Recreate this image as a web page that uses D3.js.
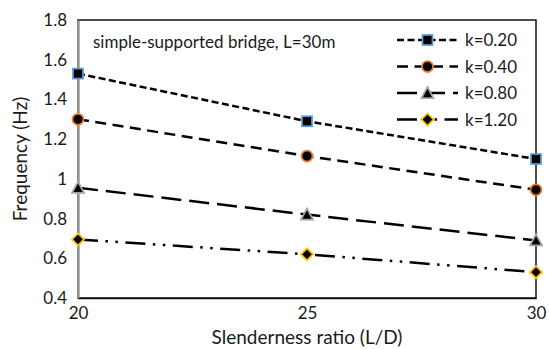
<!DOCTYPE html>
<html>
<head>
<meta charset="utf-8">
<script src="https://cdn.jsdelivr.net/npm/d3@7"></script>
<style>
  html, body { margin: 0; padding: 0; background: #fff; }
  svg { display: block; }
  text { font-family: Lato, "Open Sans", sans-serif; fill: #1a1a1a; }
</style>
</head>
<body>
<svg id="chart" width="549" height="349"></svg>
<script>
// Slenderness ratios on the x axis
const slenderness = [20, 25, 30];
// Natural frequency (Hz) for each stiffness ratio k
const seriesNames = ["k=0.20", "k=0.40", "k=0.80", "k=1.20"];
const freqK020 = [1.53, 1.29, 1.10];
const freqK040 = [1.30, 1.115, 0.945];
const freqK080 = [0.955, 0.82, 0.69];
const freqK120 = [0.695, 0.62, 0.53];
const yTicks = [0.4, 0.6, 0.8, 1.0, 1.2, 1.4, 1.6, 1.8];
const xTicks = [20, 25, 30];

const seriesValues = [freqK020, freqK040, freqK080, freqK120];
const styles = [
  { dash: "7 3.5", marker: "square", stroke: "#5B9BD5" },
  { dash: "11 6.5", marker: "circle", stroke: "#ED7D31" },
  { dash: "20 8", marker: "triangle", stroke: "#A5A5A5" },
  { dash: "20 7.5 2.5 7.5 2.5 7.5", marker: "diamond", stroke: "#FFC000" }
];

const svg = d3.select("#chart");
const plot = { left: 78, right: 536, top: 20, bottom: 298 };

const x = d3.scaleLinear().domain([20, 30]).range([plot.left, plot.right]);
const y = d3.scaleLinear().domain([0.4, 1.8]).range([plot.bottom, plot.top]);

// Plot-area frame
svg.append("rect")
  .attr("x", plot.left).attr("y", plot.top)
  .attr("width", plot.right - plot.left).attr("height", plot.bottom - plot.top)
  .attr("fill", "none").attr("stroke", "#111").attr("stroke-width", 1.5);

// Y axis
const yAxis = svg.append("g")
  .attr("transform", `translate(${plot.left},0)`)
  .call(d3.axisLeft(y).tickValues(yTicks).tickSize(0).tickPadding(11)
    .tickFormat(d => d3.format("~g")(d)));
yAxis.select(".domain").attr("stroke", "#9a9a9a").attr("stroke-width", 2.5);
yAxis.selectAll("text").attr("font-size", 17).attr("fill", "#1a1a1a")
  .style("font-family", "Lato, sans-serif");

// X axis
const xAxis = svg.append("g")
  .attr("transform", `translate(0,${plot.bottom})`)
  .call(d3.axisBottom(x).tickValues(xTicks).tickSize(0).tickPadding(9)
    .tickFormat(d3.format("d")));
xAxis.select(".domain").attr("stroke", "#111").attr("stroke-width", 1.5);
xAxis.selectAll("text").attr("font-size", 17).attr("fill", "#1a1a1a")
  .style("font-family", "Lato, sans-serif");

// Axis titles
svg.append("text")
  .attr("x", (plot.left + plot.right) / 2).attr("y", 344)
  .attr("text-anchor", "middle").attr("font-size", 19)
  .text("Slenderness ratio (L/D)");
svg.append("text")
  .attr("transform", `translate(27,${(plot.top + plot.bottom) / 2}) rotate(-90)`)
  .attr("text-anchor", "middle").attr("font-size", 19)
  .text("Frequency (Hz)");

// Annotation
svg.append("text")
  .attr("x", 93).attr("y", 48).attr("font-size", 17)
  .text("simple-supported bridge, L=30m");

// Marker drawing helper
function drawMarker(g, type, cx, cy, stroke) {
  let el;
  if (type === "square") {
    el = g.append("rect").attr("x", cx - 5).attr("y", cy - 5).attr("width", 10).attr("height", 10);
  } else if (type === "circle") {
    el = g.append("circle").attr("cx", cx).attr("cy", cy).attr("r", 5.5);
  } else if (type === "triangle") {
    el = g.append("path").attr("d", `M${cx},${cy - 6}L${cx + 6},${cy + 5}L${cx - 6},${cy + 5}Z`);
  } else {
    el = g.append("path").attr("d", `M${cx},${cy - 6}L${cx + 6},${cy}L${cx},${cy + 6}L${cx - 6},${cy}Z`);
  }
  el.attr("fill", "#000").attr("stroke", stroke).attr("stroke-width", 1.75);
}

const line = d3.line().x((d, i) => x(slenderness[i])).y(d => y(d));

seriesValues.forEach((vals, si) => {
  const st = styles[si];
  const g = svg.append("g");
  g.append("path").datum(vals)
    .attr("d", line).attr("fill", "none")
    .attr("stroke", "#000").attr("stroke-width", 2.5)
    .attr("stroke-dasharray", st.dash);
  vals.forEach((v, i) => drawMarker(g, st.marker, x(slenderness[i]), y(v), st.stroke));
});

// Legend
const legendX0 = 397, legendX1 = 458, legendTop = 40, legendStep = 26.5;
seriesNames.forEach((name, si) => {
  const st = styles[si];
  const ly = legendTop + si * legendStep;
  const g = svg.append("g");
  g.append("line").attr("x1", legendX0).attr("x2", legendX1).attr("y1", ly).attr("y2", ly)
    .attr("stroke", "#000").attr("stroke-width", 2.5).attr("stroke-dasharray", st.dash);
  drawMarker(g, st.marker, (legendX0 + legendX1) / 2, ly, st.stroke);
  g.append("text").attr("x", 465).attr("y", ly + 6).attr("font-size", 17).text(name);
});
</script>
</body>
</html>
